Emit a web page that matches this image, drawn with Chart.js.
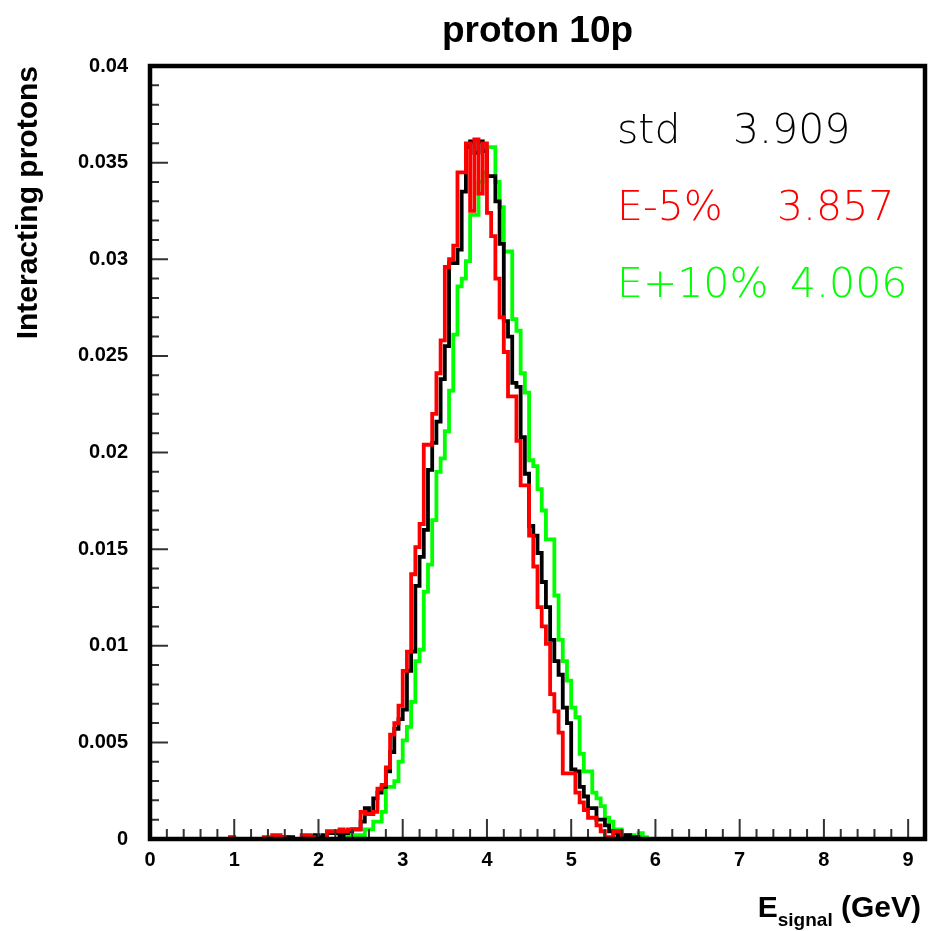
<!DOCTYPE html>
<html>
<head>
<meta charset="utf-8">
<title>proton 10p</title>
<script src="https://cdn.jsdelivr.net/npm/chart.js@4.4.0/dist/chart.umd.min.js"></script>
<style>
body{margin:0;background:#fff;}
#wrap{width:930px;height:931px;}
</style>
</head>
<body>
<div id="wrap"><canvas id="histChart" width="930" height="931"></canvas></div>
<script>
// histogram bins are 0.05 GeV wide, the listed values start at bin 0.90
var binWidth = 0.05;
var firstBin = 0.90;
var xMax = 9.2;
var xTicks = [0,1,2,3,4,5,6,7,8,9];
var yTicks = [0,0.005,0.01,0.015,0.02,0.025,0.03,0.035,0.04];

// std (black)
var hStd = [
    0,0,0,0,0,0,0,0,0,0,
    0,0,0,0.0001,0.0001,0.0001,0,0,0,0.0001,
    0.0001,0.0002,0.0001,0.0002,0.0003,0.0003,0.0003,0.0002,0.0003,0.0004,
    0.0005,0.0005,0.0009,0.0016,0.0013,0.0021,0.0024,0.0027,0.0035,0.0045,
    0.0057,0.0062,0.0067,0.0087,0.0097,0.0131,0.0146,0.016,0.0191,0.0205,
    0.0216,0.0238,0.0255,0.0298,0.0298,0.0305,0.0335,0.0358,0.0361,0.0355,
    0.0361,0.0356,0.0343,0.0343,0.033,0.0308,0.0268,0.026,0.0236,0.0234,
    0.0208,0.0189,0.0162,0.0157,0.0148,0.0133,0.012,0.0103,0.0092,0.0085,
    0.0068,0.006,0.0036,0.0035,0.0027,0.0022,0.0016,0.0016,0.001,0.001,
    0.0007,0.0004,0.0003,0.0002,0.0001,0.0002,0.0001,0.0001,0,0,
    0
];
// E-5% (red)
var hMinus5 = [
    0,0.0001,0,0,0,0,0,0,0,0.0001,
    0,0.0002,0.0002,0.0001,0,0,0,0,0.0002,0.0002,
    0.0001,0,0,0,0.0004,0.0004,0.0004,0.0005,0.0004,0.0005,
    0.0005,0.0005,0.0014,0.0013,0.0013,0.0014,0.0026,0.0028,0.0037,0.0054,
    0.006,0.0069,0.0087,0.0097,0.0137,0.0151,0.0163,0.0204,0.0204,0.022,
    0.0241,0.0258,0.0296,0.03,0.0307,0.0345,0.0345,0.036,0.0325,0.0362,
    0.0334,0.036,0.0324,0.0312,0.029,0.027,0.0252,0.0229,0.0229,0.0206,
    0.0183,0.0183,0.0157,0.0141,0.012,0.011,0.0101,0.0075,0.0066,0.0055,
    0.0034,0.0034,0.0034,0.0024,0.0019,0.0015,0.0011,0.0011,0.0007,0.0004,
    0.0001,0.0001,0.0004,0.0004,0,0,0,0,0,0,
    0
];
// E+10% (green)
var hPlus10 = [
    0,0.0001,0,0,0,0,0,0,0,0,
    0.0001,0,0,0,0.0001,0,0,0,0,0.0001,
    0,0,0,0.0001,0,0,0,0.0004,0.0004,0.0002,
    0.0002,0.0002,0.0002,0.0005,0.0005,0.0009,0.0009,0.0014,0.0027,0.0027,
    0.003,0.004,0.0051,0.0058,0.0071,0.0092,0.0098,0.0128,0.0142,0.0165,
    0.019,0.0197,0.0211,0.0232,0.0261,0.0286,0.029,0.0299,0.0323,0.0323,
    0.034,0.0345,0.0358,0.0358,0.034,0.0327,0.0304,0.0304,0.0269,0.0263,
    0.0241,0.0231,0.0196,0.0193,0.0181,0.017,0.0155,0.0155,0.0126,0.0103,
    0.0092,0.0082,0.0068,0.0063,0.0044,0.0035,0.0035,0.0024,0.0021,0.0017,
    0.0011,0.0009,0.0005,0.0005,0.0002,0.0002,0.0002,0.0001,0.0003,0.0001,
    0
];

var statNames = ['std','E-5%','E+10%'];
var statValues = ['3.909','3.857','4.006'];
var statColors = ['#000000','#ff0000','#00ff00'];

// bins -> step points (left edge of every bin, plus the right edge of the axis)
function toPoints(vals){
    var pts = [];
    var nBins = Math.round(xMax/binWidth);
    var off = Math.round(firstBin/binWidth);
    for(var k=0;k<nBins;k++){
        var v = 0;
        if(k>=off && k-off<vals.length){
            v = vals[k-off];
        }
        pts.push({x: +(k*binWidth).toFixed(2), y: v});
    }
    pts.push({x: xMax, y: 0});
    return pts;
}

// ROOT style frame, inside ticks and texts
var rootFrame = {
    id: 'rootFrame',
    afterDraw: function(chart){
        var c = chart.ctx;
        var a = chart.chartArea;
        var xs = chart.scales.x;
        var ys = chart.scales.y;
        c.save();
        c.strokeStyle = '#333';
        c.lineWidth = 2;
        c.beginPath();
        for(var i=0;i<=46;i++){
            var px = xs.getPixelForValue(i*0.2);
            var len = (i%5==0) ? 20 : 10;
            c.moveTo(px, a.bottom);
            c.lineTo(px, a.bottom-len);
        }
        for(var j=0;j<=40;j++){
            var py = ys.getPixelForValue(j*0.001);
            var len2 = (j%5==0) ? 18 : 9;
            c.moveTo(a.left, py);
            c.lineTo(a.left+len2, py);
        }
        c.stroke();

        c.strokeStyle = '#000';
        c.lineWidth = 4.5;
        c.strokeRect(a.left, a.top, a.right-a.left, a.bottom-a.top);

        // title
        c.fillStyle = '#000';
        c.textBaseline = 'alphabetic';
        c.textAlign = 'center';
        c.font = 'bold 37px "Liberation Sans"';
        c.fillText('proton 10p', (a.left+a.right)/2, 42);

        // stats box
        c.textAlign = 'left';
        c.font = '200 41px "DejaVu Sans"';
        var valX = [733, 777, 790];
        for(var s=0;s<statNames.length;s++){
            c.fillStyle = statColors[s];
            c.fillText(statNames[s], 617, 143 + s*77);
            c.fillText(statValues[s], valX[s], 143 + s*77);
        }

        // x axis title E_signal (GeV)
        c.fillStyle = '#000';
        c.font = 'bold 30px "Liberation Sans"';
        var wG = c.measureText(' (GeV)').width;
        var wE = c.measureText('E').width;
        c.font = 'bold 19px "Liberation Sans"';
        var wS = c.measureText('signal').width;
        var xR = 921;
        c.fillText('signal', xR-wG-wS, 926);
        c.font = 'bold 30px "Liberation Sans"';
        c.fillText(' (GeV)', xR-wG, 917);
        c.fillText('E', xR-wG-wS-wE, 917);
        c.restore();
    }
};

var tickFont = {family: 'Liberation Sans', weight: 'bold', size: 20};

var ctx = document.getElementById('histChart');
window.histChart = new Chart(ctx, {
    type: 'line',
    data: {
        datasets: [
            {label: 'E+10%', data: toPoints(hPlus10), borderColor: '#00ff00', stepped: true, order: 3},
            {label: 'std', data: toPoints(hStd), borderColor: '#000000', stepped: true, order: 2},
            {label: 'E-5%', data: toPoints(hMinus5), borderColor: '#ff0000', stepped: true, order: 1}
        ]
    },
    options: {
        responsive: false,
        animation: false,
        devicePixelRatio: 1,
        layout: {padding: {top: 66, right: 5, left: 0, bottom: 0}},
        elements: {
            line: {borderWidth: 3.8, tension: 0, fill: false},
            point: {radius: 0}
        },
        plugins: {
            legend: {display: false},
            tooltip: {enabled: false},
            title: {display: false}
        },
        scales: {
            x: {
                type: 'linear',
                min: 0,
                max: xMax,
                grid: {display: false, drawTicks: false},
                border: {display: false},
                afterBuildTicks: function(s){
                    s.ticks = xTicks.map(function(v){ return {value: v}; });
                },
                afterFit: function(s){ s.height = 92; },
                ticks: {font: tickFont, color: '#000', padding: 9, autoSkip: false, maxRotation: 0}
            },
            y: {
                type: 'linear',
                min: 0,
                max: 0.04,
                grid: {display: false, drawTicks: false},
                border: {display: false},
                afterBuildTicks: function(s){
                    s.ticks = yTicks.map(function(v){ return {value: v}; });
                },
                afterFit: function(s){ s.width = 150; },
                ticks: {
                    font: tickFont, color: '#000', padding: 22, autoSkip: false,
                    callback: function(v){ return String(v); }
                },
                title: {
                    display: true,
                    text: 'Interacting protons',
                    align: 'end',
                    color: '#000',
                    font: {family: 'Liberation Sans', weight: 'bold', size: 30},
                    padding: {top: 11, bottom: 0}
                }
            }
        }
    },
    plugins: [rootFrame]
});
</script>
</body>
</html>
